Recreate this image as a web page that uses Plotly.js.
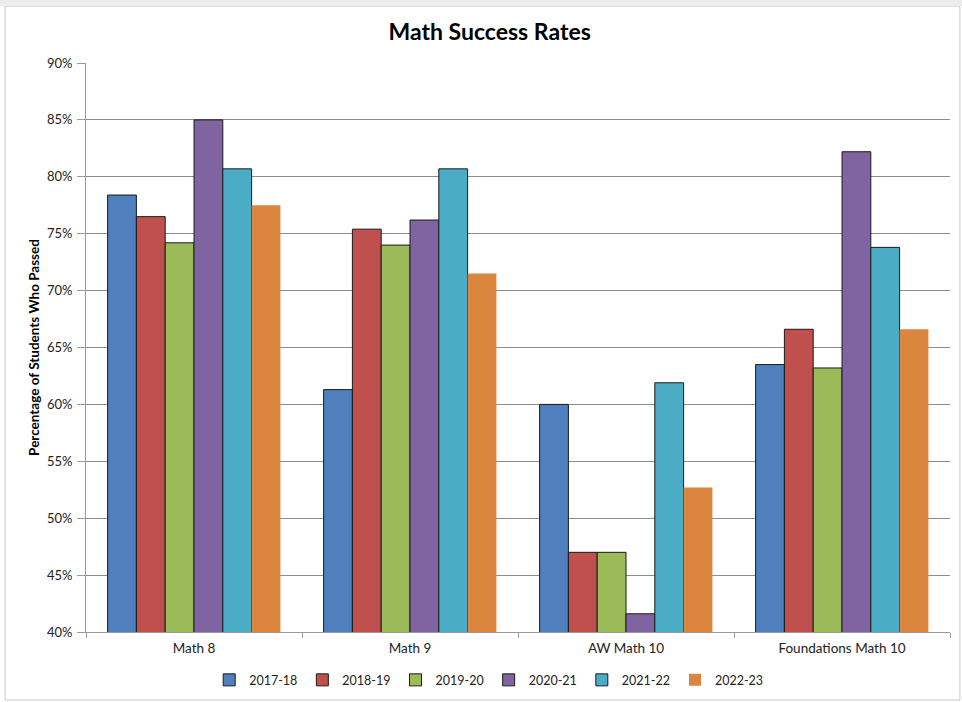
<!DOCTYPE html>
<html>
<head>
<meta charset="utf-8">
<script src="https://cdn.plot.ly/plotly-3.0.1.min.js"></script>
<style>html,body{margin:0;padding:0;background:#fff;}#chart{width:962px;height:702px;}</style>
</head>
<body>
<div id="chart"></div>
<script>
const categories = ["Math 8", "Math 9", "AW Math 10", "Foundations Math 10"];
const seriesNames = ["2017-18", "2018-19", "2019-20", "2020-21", "2021-22", "2022-23"];
const s2017_18 = [0.784, 0.613, 0.600, 0.635];
const s2018_19 = [0.765, 0.754, 0.470, 0.666];
const s2019_20 = [0.742, 0.740, 0.470, 0.632];
const s2020_21 = [0.850, 0.762, 0.416, 0.822];
const s2021_22 = [0.807, 0.807, 0.619, 0.738];
const s2022_23 = [0.775, 0.715, 0.527, 0.666];
const seriesValues = [s2017_18, s2018_19, s2019_20, s2020_21, s2021_22, s2022_23];
const colors = ["#4F7FBD", "#C0504D", "#9BBB59", "#8064A2", "#4BACC6", "#DC853F"];
const outlined = [true, true, true, true, true, false];
const yTicks = [0.40, 0.45, 0.50, 0.55, 0.60, 0.65, 0.70, 0.75, 0.80, 0.85, 0.90];

const traces = seriesNames.map((name, i) => ({
  type: "bar",
  name: name,
  x: categories,
  y: seriesValues[i],
  marker: {
    color: colors[i],
    line: { color: outlined[i] ? "#1a1a1a" : colors[i], width: outlined[i] ? 1 : 0 }
  },
  hoverinfo: "x+y+name"
}));

const font = "Lato, 'Open Sans', sans-serif";
const layout = {
  width: 962, height: 702,
  margin: { l: 86, r: 12, t: 63, b: 70 },
  paper_bgcolor: "#ffffff",
  plot_bgcolor: "#ffffff",
  barmode: "group",
  bargap: 0.2,
  bargroupgap: 0,
  font: { family: font, size: 12, color: "#222" },
  title: {
    text: "<b>Math Success Rates</b>",
    font: { family: font, size: 23, color: "#000" },
    x: 0.509, xanchor: "center", y: 0.955, yanchor: "middle"
  },
  xaxis: {
    type: "category",
    showline: true, linecolor: "#999", linewidth: 1,
    ticks: "outside", tickson: "boundaries", ticklen: 5, tickcolor: "#999",
    ticklabelstandoff: 4,
    showgrid: false,
    tickfont: { family: font, size: 13.5, color: "#222" }
  },
  yaxis: {
    range: [0.40, 0.90],
    tickvals: yTicks,
    ticktext: yTicks.map(v => Math.round(v * 100) + "%"),
    showline: true, linecolor: "#999", linewidth: 1,
    ticks: "outside", ticklen: 8, tickcolor: "#999",
    ticklabelstandoff: 2,
    showgrid: true, gridcolor: "#8c8c8c", gridwidth: 1,
    zeroline: false,
    tickfont: { family: font, size: 13, color: "#222" },
    title: {
      text: "<b>Percentage of Students Who Passed</b>",
      font: { family: font, size: 13.5, color: "#000" },
      standoff: 4
    }
  },
  legend: {
    orientation: "h",
    xref: "container", yref: "container",
    x: 0.508, xanchor: "center",
    y: 0.031, yanchor: "middle",
    bgcolor: "rgba(0,0,0,0)",
    font: { family: font, size: 12.5, color: "#222" },
    traceorder: "normal",
    itemwidth: 30
  },
  shapes: [
    { type: "rect", xref: "paper", yref: "paper", x0: -0.0937, x1: 1.0115, y0: -0.1195, y1: 1.1, line: { color: "#c8c8c8", width: 1 }, fillcolor: "rgba(0,0,0,0)", layer: "below" },
    { type: "rect", xref: "paper", yref: "paper", x0: -0.1, x1: 1.02, y0: 1.1, y1: 1.115, line: { width: 0 }, fillcolor: "#ececec", layer: "below" }
  ],
  showlegend: true
};

Plotly.newPlot("chart", traces, layout, { displayModeBar: false, staticPlot: true });
</script>
</body>
</html>
